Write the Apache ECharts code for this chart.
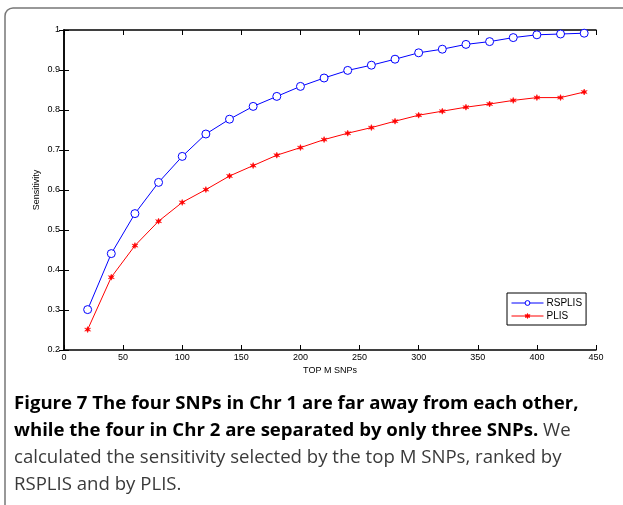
<!DOCTYPE html>
<html><head><meta charset="utf-8">
<script src="https://cdn.jsdelivr.net/npm/echarts@6/dist/echarts.min.js"></script>
<style>html,body{margin:0;padding:0;background:#fff}#c{width:623px;height:505px}</style>
</head><body><div id="c"></div>
<script>
const topM = [20,40,60,80,100,120,140,160,180,200,220,240,260,280,300,320,340,360,380,400,420,440];
const rsplis = [0.301,0.441,0.541,0.619,0.684,0.740,0.777,0.809,0.834,0.859,0.880,0.899,0.912,0.927,0.943,0.952,0.964,0.971,0.981,0.988,0.990,0.992];
const plis = [0.251,0.382,0.461,0.522,0.569,0.601,0.635,0.661,0.687,0.706,0.726,0.742,0.756,0.772,0.787,0.797,0.807,0.815,0.824,0.831,0.831,0.845];
const xTicks = [0,50,100,150,200,250,300,350,400,450];
const yTicks = ['0.2','0.3','0.4','0.5','0.6','0.7','0.8','0.9','1'];
const seriesNames = ['RSPLIS','PLIS'];
const caption = [
  ['b','Figure 7 The four SNPs in Chr 1 are far away from each other,'],
  ['b','while the four in Chr 2 are separated by only three SNPs.','n',' We'],
  ['n','calculated the sensitivity selected by the top M SNPs, ranked by'],
  ['n','RSPLIS and by PLIS.']
];

const chart = echarts.init(document.getElementById('c'), null, {renderer:'canvas'});
const axFont = {fontFamily:'Liberation Sans, Arial, sans-serif', fontSize:9, color:'#000'};
const axLine = {show:true, lineStyle:{color:'#000', width:1.5}};
const tick = {show:true, inside:true, length:5, lineStyle:{color:'#000', width:1}};
const star = 'path://M0,-5 L1.4,-1.6 L4.6,-2.6 L2.2,0 L4.6,2.6 L1.4,1.6 L0,5 L-1.4,1.6 L-4.6,2.6 L-2.2,0 L-4.6,-2.6 L-1.4,-1.6 Z';

const capText = caption.map(l => {
  let s = '';
  for (let i = 0; i < l.length; i += 2) s += '{' + l[i] + '|' + l[i+1] + '}';
  return s;
}).join('\n');

chart.setOption({
  animation:false,
  grid:{left:64, top:30, width:532, height:320},
  xAxis:[{
    type:'value', min:0, max:450, interval:50,
    axisLine:axLine, axisTick:tick, splitLine:{show:false},
    axisLabel:Object.assign({margin:3, formatter:v=>String(xTicks[Math.round(v/50)])}, axFont),
    name:'TOP M SNPs', nameLocation:'middle', nameGap:16, nameMoveOverlap:false,
    nameTextStyle:axFont
  },{
    type:'value', min:0, max:450, interval:50, position:'top',
    axisLine:axLine, axisTick:tick, axisLabel:{show:false}, splitLine:{show:false}
  }],
  yAxis:[{
    type:'value', min:0.2, max:1, interval:0.1,
    axisLine:axLine, axisTick:tick, splitLine:{show:false},
    axisLabel:Object.assign({margin:4, formatter:v=>yTicks[Math.round((v-0.2)*10)]}, axFont),
    name:'Sensitivity', nameLocation:'middle', nameGap:23, nameRotate:90, nameMoveOverlap:false,
    nameTextStyle:axFont
  },{
    type:'value', min:0.2, max:1, interval:0.1, position:'right',
    axisLine:axLine, axisTick:tick, axisLabel:{show:false}, splitLine:{show:false}
  }],
  legend:{
    left:507, top:293, orient:'vertical', itemGap:3, itemWidth:32, itemHeight:6,
    padding:[5,4,4,4], borderColor:'#000', borderWidth:1, backgroundColor:'#fff',
    textStyle:{fontFamily:'Liberation Sans, Arial, sans-serif', fontSize:10, color:'#000', padding:[0,0,0,-2]},
    itemStyle:{borderWidth:1},
    lineStyle:{width:1},
    data:seriesNames
  },
  series:[{
    name:seriesNames[0], type:'line', data:topM.map((x,i)=>[x,rsplis[i]]),
    symbol:'circle', symbolSize:8, showAllSymbol:true,
    lineStyle:{color:'#0000ff', width:1},
    itemStyle:{color:'#fff', borderColor:'#0000ff', borderWidth:1}
  },{
    name:seriesNames[1], type:'line', data:topM.map((x,i)=>[x,plis[i]]),
    symbol:star, symbolSize:6, showAllSymbol:true,
    lineStyle:{color:'#ff0000', width:1},
    itemStyle:{color:'#ff0000', borderColor:'#ff0000', borderWidth:0.5}
  }],
  graphic:[{
    type:'rect', shape:{x:5, y:8, width:700, height:600, r:8},
    style:{fill:'none', stroke:'#777', lineWidth:1.5}, silent:true
  },{
    type:'text', left:14, top:394,
    style:{
      text:capText,
      rich:{
        b:{fontFamily:'Open Sans, sans-serif', fontWeight:'bold', fontSize:18.6, lineHeight:27, fill:'#000'},
        n:{fontFamily:'Open Sans, sans-serif', fontSize:18.6, lineHeight:27, fill:'#3a3a3a'}
      }
    }
  }]
});
</script>
</body></html>
